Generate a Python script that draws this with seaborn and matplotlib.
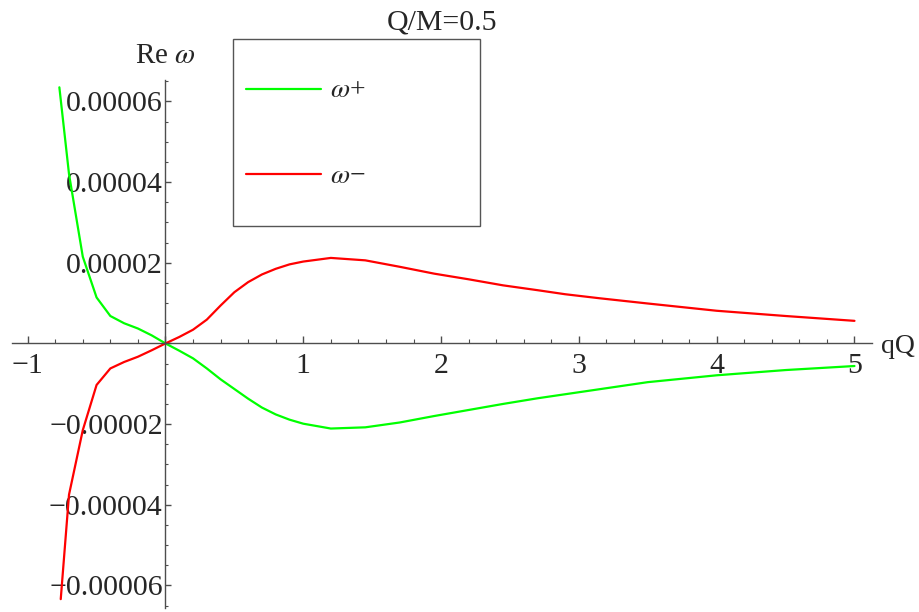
import numpy as np
import pandas as pd
import seaborn as sns
import matplotlib.pyplot as plt
from matplotlib.ticker import MultipleLocator, FuncFormatter

#----------------------------------------
# Re(omega) vs qQ, Q/M = 0.5  (units of 1e-6)
qQ_plus = [-0.77, -0.7, -0.6, -0.5, -0.4, -0.3, -0.2, -0.1, 0.0, 0.1, 0.2, 0.3, 0.4, 0.5,
           0.6, 0.7, 0.8, 0.9, 1.0, 1.2, 1.45, 1.7, 1.95, 2.2, 2.45, 2.7, 2.9, 3.1,
           3.5, 4.0, 4.5, 5.0]
re_plus = [63.5, 42.0, 21.5, 11.4, 6.8, 5.0, 3.7, 2.0, 0.0, -1.8, -3.7, -6.2, -8.9, -11.3,
           -13.7, -15.9, -17.6, -18.9, -19.9, -21.1, -20.8, -19.6, -18.0, -16.5, -15.0, -13.6, -12.6, -11.6,
           -9.6, -7.9, -6.6, -5.6]

qQ_minus = [-0.76, -0.7, -0.6, -0.5, -0.4, -0.3, -0.2, -0.1, 0.0, 0.1, 0.2, 0.3, 0.4, 0.5,
            0.6, 0.7, 0.8, 0.9, 1.0, 1.2, 1.45, 1.7, 1.95, 2.2, 2.45, 2.7, 2.9, 3.15,
            3.5, 4.0, 4.5, 5.0]
re_minus = [-63.4, -37.5, -21.5, -10.3, -6.2, -4.6, -3.3, -1.7, 0.0, 1.6, 3.4, 5.9, 9.4, 12.7,
            15.2, 17.1, 18.5, 19.6, 20.3, 21.2, 20.6, 19.0, 17.3, 15.9, 14.4, 13.2, 12.2, 11.2,
            9.9, 8.1, 6.8, 5.6]

labels = [r'$\omega$+', r'$\omega$−']
colors = ['#00ff00', '#ff0000']
#----------------------------------------

sns.set_style('white')
plt.rcParams['font.family'] = ['Liberation Serif', 'DejaVu Serif']
plt.rcParams['mathtext.fontset'] = 'stix'

df_plus = pd.DataFrame({'qQ': qQ_plus, 're': np.array(re_plus) * 1e-6})
df_minus = pd.DataFrame({'qQ': qQ_minus, 're': np.array(re_minus) * 1e-6})

fig = plt.figure(figsize=(9.2, 6.12), dpi=100)
ax = fig.add_axes([0.0127, 0.0065, 0.9348, 0.8627])

sns.lineplot(data=df_plus, x='qQ', y='re', color=colors[0], lw=1.6, label=labels[0], ax=ax)
sns.lineplot(data=df_minus, x='qQ', y='re', color=colors[1], lw=1.6, label=labels[1], ax=ax)

ax.set_xlim(-1.116, 5.125)
ax.set_ylim(-6.56e-5, 6.53e-5)

# mathematica style axes through the origin
axcol = '#4d4d4d'
for side in ['top', 'right']:
    ax.spines[side].set_visible(False)
for side in ['left', 'bottom']:
    ax.spines[side].set_position(('data', 0))
    ax.spines[side].set_color(axcol)
    ax.spines[side].set_linewidth(1)

ax.xaxis.set_major_locator(MultipleLocator(1))
ax.xaxis.set_minor_locator(MultipleLocator(0.2))
ax.yaxis.set_major_locator(MultipleLocator(2e-5))
ax.yaxis.set_minor_locator(MultipleLocator(5e-6))

def fmt_x(v, pos):
    if abs(v) < 1e-9:
        return ''
    return f'{v:.0f}'.replace('-', '−')

def fmt_y(v, pos):
    if abs(v) < 1e-12:
        return ''
    return f'{v:.5f}'.replace('-', '−')

ax.xaxis.set_major_formatter(FuncFormatter(fmt_x))
ax.yaxis.set_major_formatter(FuncFormatter(fmt_y))

ax.tick_params(which='both', bottom=True, left=True, top=False, right=False)
ax.tick_params(axis='x', which='major', direction='in', length=5, width=1, color=axcol,
               labelsize=21.5, pad=7)
ax.tick_params(axis='x', which='minor', direction='in', length=3, width=0.8, color=axcol)
ax.tick_params(axis='y', which='major', direction='in', length=4.5, width=1, color=axcol,
               labelsize=21.5, pad=2)
ax.tick_params(axis='y', which='minor', direction='in', length=2.5, width=0.8, color=axcol)

ax.set_xlabel('qQ', fontsize=20, ha='left', va='center')
ax.xaxis.set_label_coords(1.011, 0.495)
ax.set_ylabel(r'Re $\omega$', fontsize=21, rotation=0, ha='center', va='center')
ax.yaxis.set_label_coords(0.1788, 1.045)

fig.suptitle('Q/M=0.5', x=0.48, y=0.963, va='center', fontsize=21.5)

leg = ax.legend(loc='upper left', bbox_to_anchor=(232.7 / 920, 1 - 225 / 612, 247.3 / 920, 185.7 / 612),
                bbox_transform=fig.transFigure, mode='expand', fontsize=20,
                handlelength=2.7, handleheight=3.78, handletextpad=0.35,
                borderpad=0.47, labelspacing=0.36, borderaxespad=0,
                fancybox=False, framealpha=1, edgecolor='#555555')
leg.get_frame().set_linewidth(1)
# keep the sample lines level with the labels in the tall rows
for ln in leg.get_lines():
    ln.set_ydata(np.full_like(np.asarray(ln.get_xdata(), dtype=float), 6.0))
    ln.set_linewidth(1.6)

fig.savefig('out.png', dpi=100)
